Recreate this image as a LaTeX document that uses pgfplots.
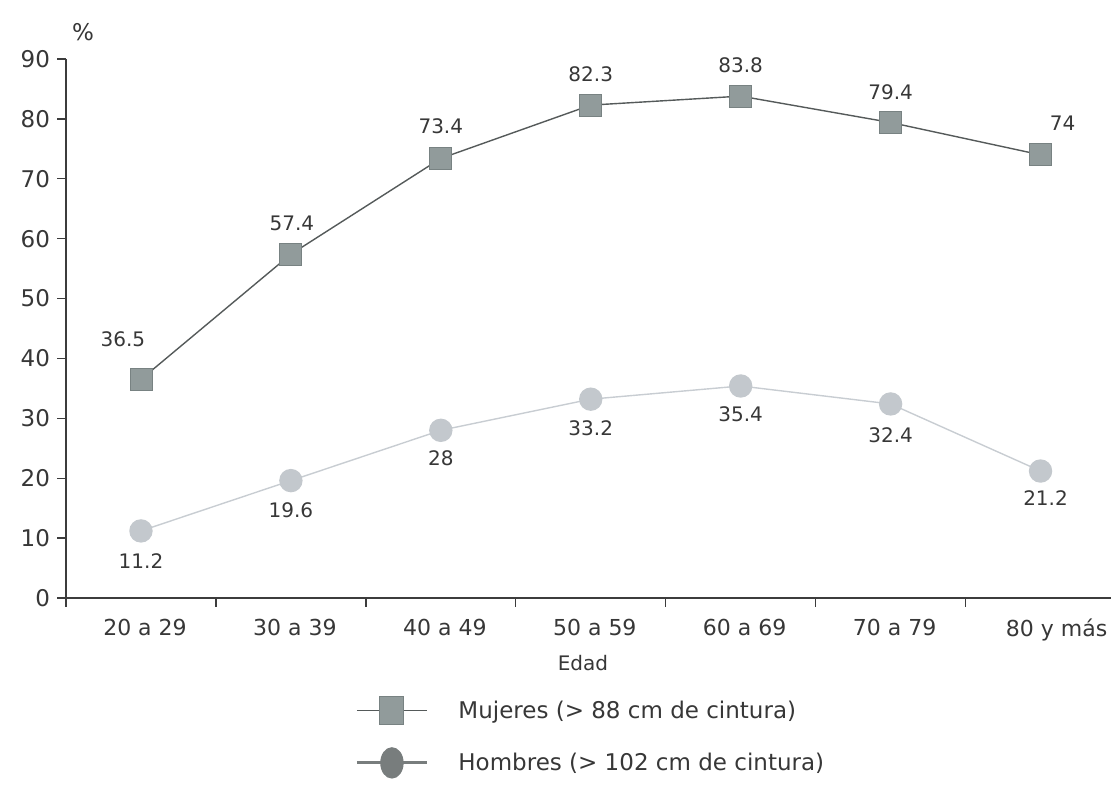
\documentclass[border=0pt]{standalone}
\usepackage{fontspec}
\setmainfont{DejaVu Sans}
\usepackage{pgfplots}
\usepackage{pgfplotstable}
\pgfplotsset{compat=1.18}

\definecolor{txt}{RGB}{55,55,55}
\definecolor{axisc}{RGB}{60,60,60}
\definecolor{mline}{RGB}{85,90,90}
\definecolor{mfill}{RGB}{145,155,155}
\definecolor{mdraw}{RGB}{120,130,130}
\definecolor{hline}{RGB}{200,205,210}
\definecolor{hfill}{RGB}{195,200,205}
\definecolor{hleg}{RGB}{120,125,125}

% x = age group index, y = percentage, dx/dy = label offset (pt)
\pgfplotstableread{
x y dx dy
0 36.5 -9 20
1 57.4 0.5 15.5
2 73.4 0 16
3 82.3 0 15.5
4 83.8 0 15.5
5 79.4 0 15
6 74 11 16
}\mujeres

\pgfplotstableread{
x y dx dy
0 11.2 0 -15
1 19.6 0 -15
2 28 0 -14
3 33.2 0 -14.5
4 35.4 0 -14
5 32.4 0 -15.5
6 21.2 2.5 -13.5
}\hombres

\begin{document}
\begin{tikzpicture}
\begin{axis}[
  name=ax,
  scale only axis,
  width=522.5pt, height=269.5pt,
  xmin=-0.5, xmax=6.47,
  ymin=0, ymax=90,
  axis lines=left,
  axis line style={-, draw=axisc, line width=0.75pt},
  tick style={draw=axisc, line width=0.7pt},
  tick align=outside,
  major tick length=4.5pt,
  ytick={0,10,...,90},
  xtick={-0.5,0.5,...,5.5},
  xticklabels={20 a 29,30 a 39,40 a 49,50 a 59,60 a 69,70 a 79,{\hspace*{12pt}80 y más}},
  x tick label style={xshift=39.5pt, yshift=-2.5pt, font=\fontsize{11}{13}\selectfont, text=txt},
  y tick label style={font=\fontsize{11.5}{13}\selectfont, text=txt},
  /pgf/number format/assume math mode=true,
  xlabel={Edad},
  x label style={at={(axis description cs:0.4947,0)}, anchor=center, yshift=-32.5pt, font=\fontsize{10}{12}\selectfont, text=txt},
  clip=false,
  legend style={at={(axis description cs:0.2766,-0.2588)}, anchor=west,
    draw=none, fill=none, inner sep=0pt, row sep=11pt, column sep=15pt,
    font=\fontsize{11.5}{13}\selectfont, text=txt, cells={anchor=west},
    nodes={inner sep=0pt}},
]
\addplot[
  color=mline, line width=0.7pt,
  mark=square*, mark size=5.5pt,
  mark options={fill=mfill, draw=mdraw, line width=0.4pt},
  nodes near coords, point meta=y,
  visualization depends on={\thisrow{dx}\as\dx},
  visualization depends on={\thisrow{dy}\as\dy},
  every node near coord/.append style={anchor=center, font=\fontsize{10}{12}\selectfont, text=txt, xshift=\dx pt, yshift=\dy pt},
  legend image code/.code={
    \draw[mline, line width=0.6pt] (0pt,0pt) -- (35pt,0pt);
    \filldraw[fill=mfill, draw=mdraw, line width=0.4pt] (11pt,-7pt) rectangle (23pt,7pt);
  },
] table[x=x, y=y] {\mujeres};
\addlegendentry{Mujeres (> 88 cm de cintura)}

\addplot[
  color=hline, line width=0.7pt,
  mark=*, mark size=5.5pt,
  mark options={fill=hfill, draw=hfill},
  nodes near coords, point meta=y,
  visualization depends on={\thisrow{dx}\as\dx},
  visualization depends on={\thisrow{dy}\as\dy},
  every node near coord/.append style={anchor=center, font=\fontsize{10}{12}\selectfont, text=txt, xshift=\dx pt, yshift=\dy pt},
  legend image code/.code={
    \draw[hleg, line width=1.5pt] (0pt,0pt) -- (35pt,0pt);
    \fill[hleg] (17.5pt,0pt) ellipse (5.5pt and 7.5pt);
  },
] table[x=x, y=y] {\hombres};
\addlegendentry{Hombres (> 102 cm de cintura)}

\node[text=txt, font=\fontsize{11.5}{13}\selectfont] at ([xshift=8.5pt, yshift=13.5pt]rel axis cs:0,1) {\%};
\end{axis}
\pgfresetboundingbox
\path[use as bounding box] ([xshift=-33pt, yshift=-99pt]ax.south west) rectangle ([xshift=0.5pt, yshift=29.5pt]ax.north east);
\end{tikzpicture}
\end{document}
